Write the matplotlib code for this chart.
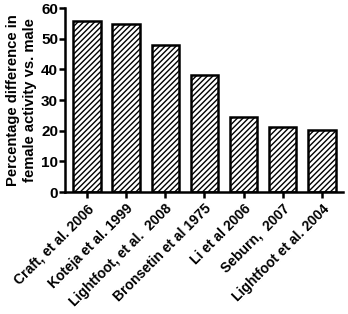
import matplotlib
matplotlib.use("Agg")
import matplotlib.pyplot as plt

studies = ["Craft, et al. 2006", "Koteja et al. 1999", "Lightfoot, et al.  2008",
           "Bronsetin et al 1975", "Li et al 2006", "Seburn,  2007", "Lightfoot et al. 2004"]
values = [55.8, 54.7, 47.9, 38.0, 24.3, 21.1, 20.2]
yticks = [0, 10, 20, 30, 40, 50, 60]

plt.rcParams['font.family'] = ['Liberation Sans', 'DejaVu Sans']
plt.rcParams['font.weight'] = 'bold'
plt.rcParams['hatch.linewidth'] = 1.0

fig = plt.figure(figsize=(3.48, 3.14), dpi=100)
ax = fig.add_axes([65/348, 1-192/314, (343-65)/348, (192-8)/314])

x = list(range(len(studies)))
ax.bar(x, values, width=0.7, facecolor='white', edgecolor='black', linewidth=1.8, hatch='//////')
ax.set_xlim(-0.56, 6.54)
ax.set_ylim(0, 60)
ax.set_yticks(yticks)
ax.set_xticks(x)
ax.set_xticklabels(studies, rotation=45, ha='right', rotation_mode='anchor', fontsize=10, fontweight='bold')
ax.tick_params(axis='y', labelsize=11, width=1.8, length=4, pad=1)
ax.tick_params(axis='x', width=1.8, length=4, pad=3)
for lab in ax.get_yticklabels():
    lab.set_fontweight('bold')
ax.spines['top'].set_visible(False)
ax.spines['right'].set_visible(False)
ax.spines['left'].set_linewidth(1.8)
ax.spines['bottom'].set_linewidth(1.8)
ax.set_ylabel("Percentage difference in\nfemale activity vs. male", fontsize=10.6, fontweight='bold', labelpad=3, linespacing=1.25)

fig.savefig("out.png", dpi=100)
